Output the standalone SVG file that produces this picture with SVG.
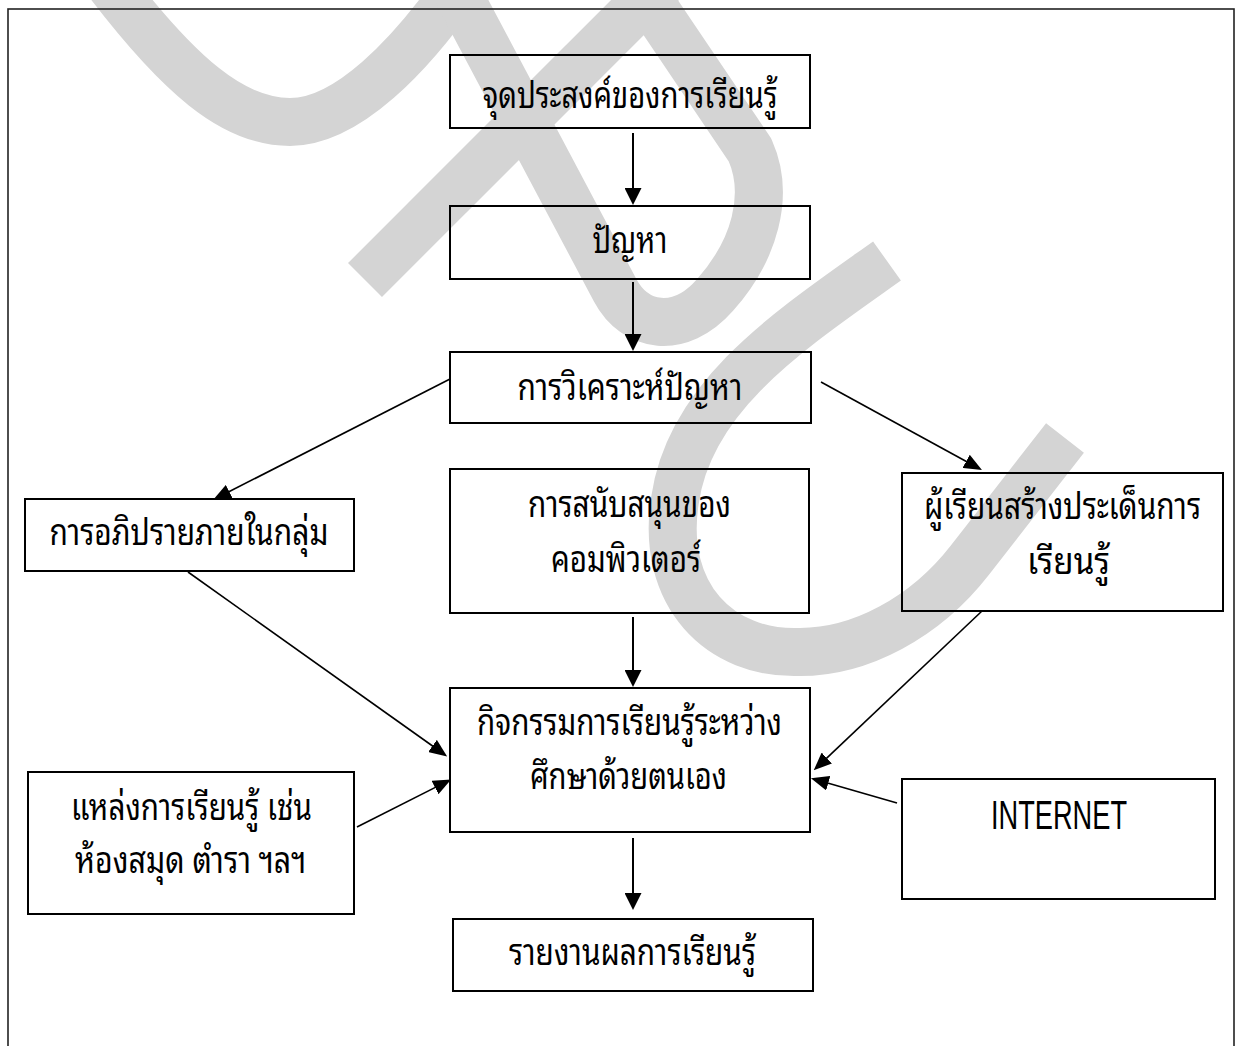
<svg xmlns="http://www.w3.org/2000/svg" width="1239" height="1046" viewBox="0 0 1239 1046">
  <style>
    .wm { fill: none; stroke: #d4d4d4; stroke-width: 48; stroke-linecap: butt; stroke-linejoin: round; }
    .frame { fill: none; stroke: #222; stroke-width: 1.6; }
    .box { fill: none; stroke: #000; stroke-width: 2; }
    .t { font-family: "Noto Sans Thai Looped", "Noto Serif Thai", "Loma", "Garuda", "Norasi", "Tlwg Typo", "Noto Sans Thai", "Noto Sans", sans-serif; font-size: 36px; font-weight: 400; text-anchor: middle; fill: #000; }
    .en { font-family: "Liberation Sans", Arial, sans-serif; font-size: 40px; text-anchor: middle; fill: #000; }
    .v { stroke: #000; stroke-width: 2; fill: none; }
    .d { stroke: #000; stroke-width: 1.6; fill: none; }
  </style>
  <defs>
    <marker id="ah" markerUnits="userSpaceOnUse" markerWidth="17" markerHeight="17" refX="6" refY="8.5" orient="auto">
      <path d="M0,0 L17,8.5 L0,17 z" fill="#000"/>
    </marker>
    <marker id="ahd" markerUnits="userSpaceOnUse" markerWidth="18" markerHeight="15" refX="7" refY="7.5" orient="auto">
      <path d="M0,0 L18,7.5 L0,15 z" fill="#000"/>
    </marker>
  </defs>

  <rect width="1239" height="1046" fill="#fff"/>

  <!-- background monogram strokes -->
  <g id="monogram">
    <path class="wm" d="M95,-35 C180,80 235,122 290,122 C345,122 410,60 470,-30"/>
    <path class="wm" d="M440,-40 L615,290 C635,328 680,335 715,295 C755,250 770,195 750,150 L632,-25"/>
    <path class="wm" d="M365,280 L680,-35"/>
    <path class="wm" d="M887,261 C790,330 690,395 675,500 C660,595 720,655 800,652 C860,652 925,618 970,560 L1065,438"/>
  </g>

  <rect class="frame" x="8" y="9" width="1226" height="1100"/>

  <g id="connectors">
    <line class="v" x1="633" y1="133" x2="633" y2="194" marker-end="url(#ah)"/>
    <line class="v" x1="633" y1="282" x2="633" y2="340" marker-end="url(#ah)"/>
    <line class="d" x1="450" y1="379" x2="223" y2="494.8" marker-end="url(#ahd)"/>
    <line class="d" x1="821" y1="382" x2="972.3" y2="464.7" marker-end="url(#ahd)"/>
    <line class="v" x1="633" y1="617" x2="633" y2="676" marker-end="url(#ah)"/>
    <line class="d" x1="188" y1="572" x2="438.2" y2="750" marker-end="url(#ahd)"/>
    <line class="d" x1="357" y1="827" x2="441.3" y2="784.4" marker-end="url(#ahd)"/>
    <line class="d" x1="982" y1="611" x2="821.7" y2="762.8" marker-end="url(#ahd)"/>
    <line class="d" x1="897" y1="803" x2="821.5" y2="781.3" marker-end="url(#ahd)"/>
    <line class="v" x1="633" y1="838" x2="633" y2="899" marker-end="url(#ah)"/>
  </g>

  <g id="n-objective">
    <rect class="box" x="450" y="55" width="360" height="73"/>
    <text class="t" x="630" y="108" textLength="295" lengthAdjust="spacingAndGlyphs">จุดประสงค์ของการเรียนรู้</text>
  </g>
  <g id="n-problem">
    <rect class="box" x="450" y="206" width="360" height="73"/>
    <text class="t" x="630" y="253" textLength="75" lengthAdjust="spacingAndGlyphs">ปัญหา</text>
  </g>
  <g id="n-analysis">
    <rect class="box" x="450" y="352" width="361" height="71"/>
    <text class="t" x="630" y="400" textLength="225" lengthAdjust="spacingAndGlyphs">การวิเคราะห์ปัญหา</text>
  </g>
  <g id="n-discussion">
    <rect class="box" x="25" y="499" width="329" height="72"/>
    <text class="t" x="189" y="545" textLength="279" lengthAdjust="spacingAndGlyphs">การอภิปรายภายในกลุ่ม</text>
  </g>
  <g id="n-computer">
    <rect class="box" x="450" y="469" width="359" height="144"/>
    <text class="t" x="629.5" y="517" textLength="203" lengthAdjust="spacingAndGlyphs">การสนับสนุนของ</text>
    <text class="t" x="626" y="572" textLength="150" lengthAdjust="spacingAndGlyphs">คอมพิวเตอร์</text>
  </g>
  <g id="n-learner-issues">
    <rect class="box" x="902" y="473" width="321" height="138"/>
    <text class="t" x="1062.5" y="519" textLength="277" lengthAdjust="spacingAndGlyphs">ผู้เรียนสร้างประเด็นการ</text>
    <text class="t" x="1068.5" y="574" textLength="83" lengthAdjust="spacingAndGlyphs">เรียนรู้</text>
  </g>
  <g id="n-self-study">
    <rect class="box" x="450" y="688" width="360" height="144"/>
    <text class="t" x="629.5" y="735" textLength="305" lengthAdjust="spacingAndGlyphs">กิจกรรมการเรียนรู้ระหว่าง</text>
    <text class="t" x="628.5" y="789" textLength="197" lengthAdjust="spacingAndGlyphs">ศึกษาด้วยตนเอง</text>
  </g>
  <g id="n-resources">
    <rect class="box" x="28" y="772" width="326" height="142"/>
    <text class="t" x="191.5" y="820" textLength="241" lengthAdjust="spacingAndGlyphs">แหล่งการเรียนรู้ เช่น</text>
    <text class="t" x="190.5" y="873" textLength="231" lengthAdjust="spacingAndGlyphs">ห้องสมุด ตำรา ฯลฯ</text>
  </g>
  <g id="n-internet">
    <rect class="box" x="902" y="779" width="313" height="120"/>
    <text class="en" x="1059" y="829" textLength="136" lengthAdjust="spacingAndGlyphs">INTERNET</text>
  </g>
  <g id="n-report">
    <rect class="box" x="453" y="919" width="360" height="72"/>
    <text class="t" x="632.5" y="965" textLength="247" lengthAdjust="spacingAndGlyphs">รายงานผลการเรียนรู้</text>
  </g>
</svg>
